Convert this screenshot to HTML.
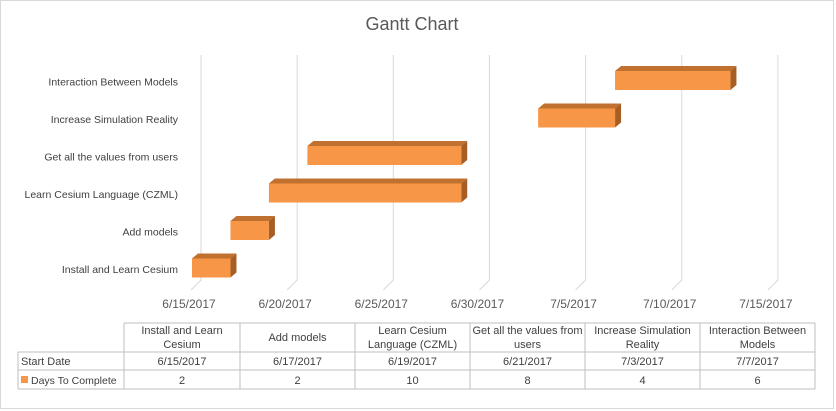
<!DOCTYPE html>
<html><head><meta charset="utf-8"><style>
body{margin:0;background:#fff;}
svg{display:block;font-family:"Liberation Sans",Calibri,sans-serif;}
</style></head><body>
<svg width="836" height="411" xmlns="http://www.w3.org/2000/svg">
<rect x="0.5" y="0.5" width="833" height="408" fill="#fff" stroke="#d9d9d9"/>
<text x="412" y="30" text-anchor="middle" font-size="18" fill="#595959">Gantt Chart</text>
<g id="grid"></g><g id="bars"></g><g id="ylabels"></g><g id="xlabels"></g><g id="table"></g>
</svg>
<script>
const tasks=["Install and Learn Cesium","Add models","Learn Cesium Language (CZML)","Get all the values from users","Increase Simulation Reality","Interaction Between Models"];
const headerLines=[["Install and Learn","Cesium"],["Add models"],["Learn Cesium","Language (CZML)"],["Get all the values from","users"],["Increase Simulation","Reality"],["Interaction Between","Models"]];
const startDays=[0,2,4,6,18,22]; // days after 6/15/2017
const startLabels=["6/15/2017","6/17/2017","6/19/2017","6/21/2017","7/3/2017","7/7/2017"];
const durations=[2,2,10,8,4,6];
const tickDays=[0,5,10,15,20,25,30];
const tickLabels=["6/15/2017","6/20/2017","6/25/2017","6/30/2017","7/5/2017","7/10/2017","7/15/2017"];

const NS="http://www.w3.org/2000/svg";
function mk(tag,attrs,parent,text){const e=document.createElementNS(NS,tag);for(const k in attrs)e.setAttribute(k,attrs[k]);if(text!==undefined)e.textContent=text;parent.appendChild(e);return e;}
const x=d=>201+d*19.23;
const rowY=i=>268-i*37.5;
const grid=document.getElementById('grid'),bars=document.getElementById('bars'),yl=document.getElementById('ylabels'),xl=document.getElementById('xlabels'),tb=document.getElementById('table');

tickDays.forEach((d,i)=>{
  const gx=x(d);
  const g=mk('path',{d:`M${gx},55 L${gx},280 L${gx-10},290`,fill:'none',stroke:'#d9d9d9','stroke-width':1},grid);
  
  
  const t=mk('text',{x:gx-12,y:308,'text-anchor':'middle','font-size':12,fill:'#595959'},xl,tickLabels[i]);
  
  
});

tasks.forEach((name,i)=>{
  const cy=rowY(i),x0=x(startDays[i])-9,x1=x(startDays[i]+durations[i])-9,h=19,top=cy-h/2,dx=6,dy=5;
  const g=mk('g',{},bars);
  
  
  mk('polygon',{points:`${x0},${top} ${x0+dx},${top-dy} ${x1+dx},${top-dy} ${x1},${top}`,fill:'#c0702f'},g);
  mk('polygon',{points:`${x1},${top} ${x1+dx},${top-dy} ${x1+dx},${top+h-dy} ${x1},${top+h}`,fill:'#a65e25'},g);
  mk('rect',{x:x0,y:top,width:x1-x0,height:h,fill:'#f79646'},g);
  const t=mk('text',{x:178,y:cy+5,'text-anchor':'end','font-size':10.5,fill:'#404040'},yl,name);
  
  
});

const cols=[124,240,355,470,585,700,815];
const ln=(a,b,c,d)=>mk('line',{x1:a,y1:b,x2:c,y2:d,stroke:'#bfbfbf','stroke-width':1},tb);
ln(124,323,815,323);ln(18,352,815,352);ln(18,370,815,370);ln(18,389,815,389);
ln(18,352,18,389);
cols.forEach(c=>ln(c,323,c,389));
for(let i=0;i<6;i++){
  const cx=(cols[i]+cols[i+1])/2,L=headerLines[i];
  L.forEach((s,k)=>{
    const t=mk('text',{x:cx,y:(L.length===1?341:334)+k*14,'text-anchor':'middle','font-size':11,fill:'#404040'},tb,s);
    
    
  });
  const a=mk('text',{x:cx,y:365,'text-anchor':'middle','font-size':11,fill:'#404040'},tb,startLabels[i]);
  
  
  const b=mk('text',{x:cx,y:384,'text-anchor':'middle','font-size':11,fill:'#404040'},tb,String(durations[i]));
  
  
}
const r1=mk('text',{x:21,y:365,'font-size':11,fill:'#404040'},tb,'Start Date');


const sq=mk('rect',{x:21,y:376,width:7,height:7,fill:'#f79646'},tb);


const r2=mk('text',{x:31,y:384,'font-size':10.5,fill:'#404040'},tb,'Days To Complete');


</script>
</body></html>
